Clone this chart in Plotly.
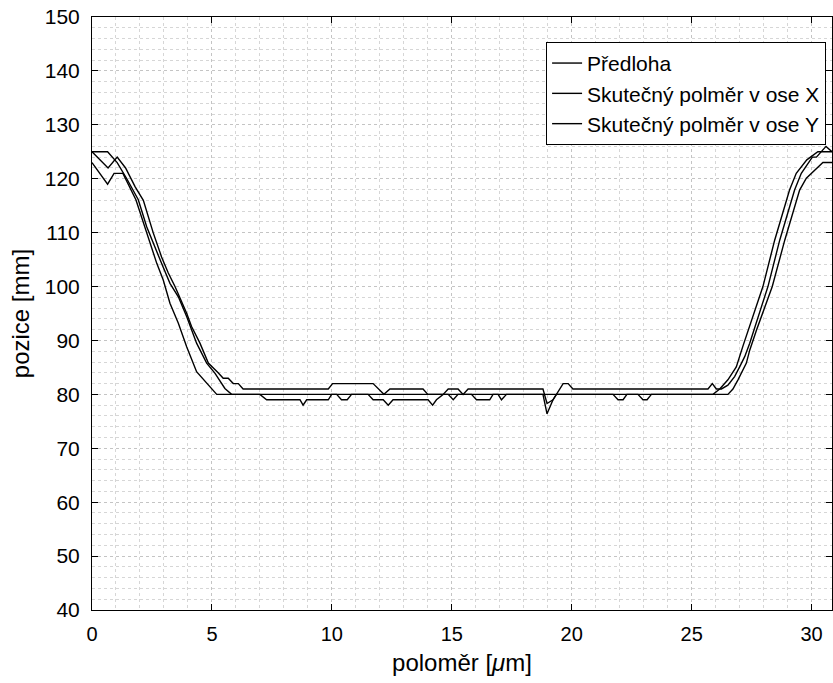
import plotly.graph_objects as go

# --- data (vertices) ---
series_names = ["Předloha", "Skutečný polměr v ose X", "Skutečný polměr v ose Y"]

pred_x = [0, 0.65, 1.05, 1.45, 1.93, 2.28, 2.90, 3.25, 3.60, 3.95, 4.36, 4.78, 5.13, 5.54, 5.82,
          25.89, 26.17, 26.51, 26.86, 27.14, 27.97, 28.46, 29.08, 29.36, 29.80, 30.26, 30.85]
pred_y = [125, 125, 123, 120, 116.1, 111.1, 104.3, 100.6, 98.1, 94.4, 89.5, 85.8, 83.9, 81.1, 80,
          80, 81, 82.7, 85.1, 89, 100, 108.6, 117.9, 121, 123.5, 125, 125]

realx_x = [0, 0.67, 1.05, 1.40, 1.80, 2.14, 2.55, 2.90, 3.18, 3.46, 3.95, 4.15, 4.50, 4.85, 5.26,
           5.47, 5.68, 5.89, 6.10, 6.30, 9.85, 10.03, 11.72, 12.17, 12.42, 13.80, 14.00, 14.64,
           14.85, 15.26, 15.47, 15.68, 18.80, 18.97, 19.22, 19.64, 19.85, 20.05, 25.68, 25.86,
           26.03, 26.24, 26.51, 26.79, 27.00, 27.21, 27.42, 28.18, 28.67, 29.29, 29.57, 29.85,
           30.03, 30.20, 30.40, 30.60, 30.85]
realx_y = [125, 122, 124, 122, 118.5, 116, 110, 105.5, 102.5, 100, 95, 92.6, 89.5, 85.8, 84,
           83, 83, 82, 82, 81, 81, 82, 82, 80, 81, 81, 80, 80,
           81, 81, 80, 81, 81, 78.3, 79, 82, 82, 81, 81, 82,
           81, 81, 81.7, 83.3, 85.1, 87, 89.5, 100, 108.6, 117.9, 121, 122.8,
           124, 124, 125, 126, 125]

realy_x = [0, 0.65, 0.92, 1.29, 1.83, 2.28, 2.70, 2.97, 3.25, 3.60, 3.95, 4.36, 4.78, 5.20,
           7.00, 7.28, 8.67, 8.80, 8.95, 9.85, 9.99, 10.20, 10.40, 10.64, 10.82, 11.51, 11.72,
           12.14, 12.35, 12.55, 14.01, 14.20, 14.36, 14.64, 14.85, 15.06, 15.26, 15.82, 16.03,
           16.58, 16.72, 16.93, 17.07, 17.28, 18.80, 18.97, 19.22, 19.36, 21.72, 21.93, 22.14,
           22.30, 22.76, 22.97, 23.14, 23.32, 26.51, 26.72, 26.93, 27.07, 27.28, 27.42, 27.70,
           28.36, 28.88, 29.50, 29.78, 30.47, 30.85]
realy_y = [123, 119, 121, 121, 116.1, 109.9, 104.3, 101.2, 96.9, 93.2, 88.8, 84.2, 82.1, 80,
           80, 79, 79, 78, 79, 79, 80, 80, 79, 79, 80, 80, 79,
           79, 78, 79, 79, 78, 79, 80, 80, 79, 80, 80, 79,
           79, 80, 80, 79, 80, 80, 76.4, 79, 80, 80, 79, 79,
           80, 80, 79, 79, 80, 80, 81, 82.7, 83.9, 85.8, 88.2, 91.9,
           100, 108.6, 117.9, 120.1, 123, 123]

x_ticks = [0, 5, 10, 15, 20, 25, 30]
y_ticks = [40, 50, 60, 70, 80, 90, 100, 110, 120, 130, 140, 150]

FONT = "Liberation Sans, Arial, sans-serif"

fig = go.Figure()
for name, xs, ys in [(series_names[0], pred_x, pred_y),
                     (series_names[1], realx_x, realx_y),
                     (series_names[2], realy_x, realy_y)]:
    fig.add_trace(go.Scatter(x=xs, y=ys, mode="lines", name=name,
                             line=dict(color="black", width=1.4)))

major_col = "#c4c4c4"
minor_col = "#d6d6d6"
fig.update_layout(
    width=833, height=683,
    margin=dict(l=92, r=1, t=17, b=73),
    plot_bgcolor="white", paper_bgcolor="white",
    font=dict(family=FONT, size=20, color="black"),
    showlegend=True,
    legend=dict(x=0.992, y=0.958, xanchor="right", yanchor="top",
                bgcolor="white", bordercolor="black", borderwidth=1,
                font=dict(size=21, family=FONT), tracegroupgap=0),
    xaxis=dict(range=[0, 30.85], tickvals=x_ticks, ticks="inside", ticklen=6,
               tickcolor="black", showline=True, linecolor="black", linewidth=1, mirror="ticks",
               showgrid=True, gridcolor=major_col, griddash="dot", gridwidth=1,
               minor=dict(dtick=1, tick0=0, showgrid=True, gridcolor=minor_col, griddash="dot",
                          ticks=""),
               zeroline=False, tickfont=dict(size=20), ticklabelstandoff=6,
               title=dict(text="poloměr [<i>μ</i>m]", font=dict(size=24), standoff=10)),
    yaxis=dict(range=[40, 150], tickvals=y_ticks, ticks="inside", ticklen=6,
               tickcolor="black", showline=True, linecolor="black", linewidth=1, mirror="ticks",
               showgrid=True, gridcolor=major_col, griddash="dot", gridwidth=1,
               minor=dict(dtick=2, tick0=40, showgrid=True, gridcolor=minor_col, griddash="dot",
                          ticks=""),
               zeroline=False, tickfont=dict(size=21), ticklabelstandoff=7,
               title=dict(text="pozice [mm]", font=dict(size=24), standoff=8)),
)

fig.write_html("out.html")
